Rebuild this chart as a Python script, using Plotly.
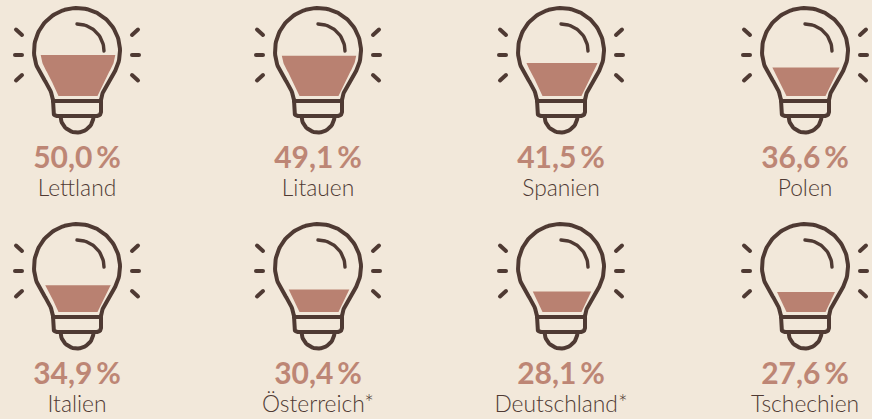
import numpy as np
import plotly.graph_objects as go

countries = ["Lettland", "Litauen", "Spanien", "Polen", "Italien", "Österreich*", "Deutschland*", "Tschechien"]
values = [50.0, 49.1, 41.5, 36.6, 34.9, 30.4, 28.1, 27.6]
value_labels = ["50,0\u2009%", "49,1\u2009%", "41,5\u2009%", "36,6\u2009%", "34,9\u2009%", "30,4\u2009%", "28,1\u2009%", "27,6\u2009%"]

BG = "#f2e8da"
DARK = "#4f3a33"
FILL = "#b98171"
VALUE = "#bd8675"
COL_X = [77, 318, 561, 805]
ROW_Y = [0, 216]

fig = go.Figure()


def arc(cx, cy, r, a0, a1, n=40):
    t = np.radians(np.linspace(a0, a1, n))
    return cx + r * np.cos(t), cy + r * np.sin(t)


def stroke(xs, ys, color=DARK, width=4.0):
    fig.add_trace(go.Scatter(x=list(xs), y=list(ys), mode="lines", hoverinfo="skip",
                             line=dict(color=color, width=width, shape="linear")))


def half_width(y):
    if y <= 72:
        return np.sqrt(max(37.5 ** 2 - (y - 51) ** 2, 0))
    return np.interp(y, [72, 84, 96], [31, 25, 19.5])


def neck_curve():
    # half-width / y of the taper from the glass sphere to the socket
    t = np.linspace(0, 1, 24)[:, None]
    p = np.array([[37.2, 72.5], [32.2, 81.2], [25.0, 90.0], [24.0, 100.0]])
    c = (1 - t) ** 3 * p[0] + 3 * (1 - t) ** 2 * t * p[1] + 3 * (1 - t) * t ** 2 * p[2] + t ** 3 * p[3]
    return c[:, 0], c[:, 1]


def bulb(cx, dy, value):
    # level of the fill inside the glass, from the value
    bottom = 96.0
    top = bottom - (0.94 * value - 6)
    ys = np.linspace(top, bottom, 40)
    w = np.array([half_width(y) for y in ys])
    fig.add_trace(go.Scatter(
        x=np.concatenate([cx + 1 - w, (cx + 1 + w)[::-1]]),
        y=np.concatenate([ys, ys[::-1]]) + dy,
        mode="lines", fill="toself", fillcolor=FILL, line=dict(width=0), hoverinfo="skip"))

    # glass outline
    ax, ay = arc(cx, 51 + dy, 43, 150, 390, 80)
    nw, ny = neck_curve()
    stroke(np.concatenate([(cx - nw)[::-1], ax, cx + nw]),
           np.concatenate([(ny + dy)[::-1], ay, ny + dy]))

    # socket
    c1x, c1y = arc(cx - 20, 112 + dy, 4, 180, 90, 8)
    c2x, c2y = arc(cx + 20, 112 + dy, 4, 90, 0, 8)
    stroke(np.concatenate([[cx - 24], c1x, c2x, [cx + 24]]),
           np.concatenate([[100 + dy], c1y, c2y, [100 + dy]]))
    stroke([cx - 24, cx + 24], [101 + dy, 101 + dy])
    dx, dy2 = arc(cx, 116 + dy, 16.5, 180, 0, 30)
    stroke(dx, dy2)

    # highlight with halo
    hx, hy = arc(cx, 51 + dy, 27, -90, 0, 24)
    stroke(hx, hy, color=BG, width=7)
    stroke(hx, hy, width=3.4)

    # rays
    for sx in (-1, 1):
        stroke([cx + sx * 55, cx + sx * 62], [55 + dy, 55 + dy])
        stroke([cx + sx * 55, cx + sx * 61], [35 + dy, 29.5 + dy])
        stroke([cx + sx * 55, cx + sx * 61], [75 + dy, 80.5 + dy])


for i, (name, val, lab) in enumerate(zip(countries, values, value_labels)):
    cx = COL_X[i % 4]
    dy = ROW_Y[i // 4]
    bulb(cx, dy, val)
    fig.add_trace(go.Scatter(x=[cx], y=[160 + dy], mode="text", text=[lab], hoverinfo="skip",
                             textposition="middle center",
                             textfont=dict(family="Lato", size=30, color=VALUE, weight=700)))
    fig.add_trace(go.Scatter(x=[cx], y=[190 + dy], mode="text", text=[name], hoverinfo="skip",
                             textposition="middle center",
                             textfont=dict(family="Lato", size=22.8, color=DARK, weight=300)))

fig.update_layout(
    width=872, height=419, margin=dict(l=0, r=0, t=0, b=0),
    paper_bgcolor=BG, plot_bgcolor=BG, showlegend=False,
    xaxis=dict(range=[0, 872], visible=False, fixedrange=True),
    yaxis=dict(range=[419, 0], visible=False, fixedrange=True),
)
post = """
document.body.style.margin='0';
document.body.style.overflow='hidden';
document.body.style.background='%s';
var s=document.createElement('style');
s.textContent='.js-line{stroke-linecap:round!important;stroke-linejoin:round!important}';
document.head.appendChild(s);
""" % BG
fig.write_html("out.html", config={"displayModeBar": False}, post_script=post)
